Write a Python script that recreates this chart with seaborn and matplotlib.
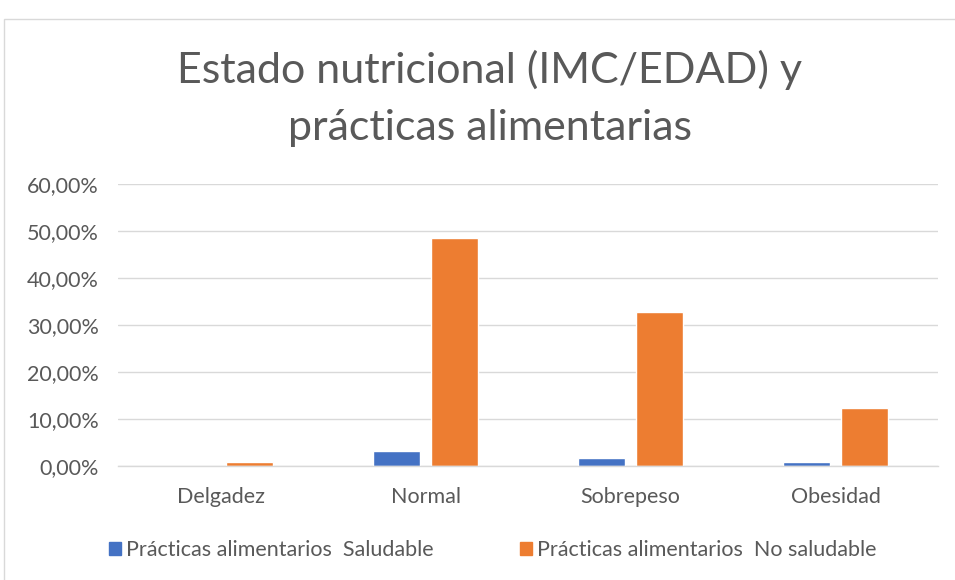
import matplotlib
matplotlib.use("Agg")
import matplotlib.pyplot as plt
import matplotlib.patches as mpatches
from matplotlib.ticker import FuncFormatter, MultipleLocator
import pandas as pd
import seaborn as sns

# Data (fractions of 1).
categories = ["Delgadez", "Normal", "Sobrepeso", "Obesidad"]
series_names = ["Prácticas alimentarios  Saludable",
                "Prácticas alimentarios  No saludable"]
saludable = [0.0, 0.032, 0.016, 0.008]
no_saludable = [0.008, 0.485, 0.328, 0.123]

colors = ["#4472C4", "#ED7D31"]
text_gray = "#595959"

df = pd.DataFrame({
    "estado": categories * 2,
    "serie": [series_names[0]] * 4 + [series_names[1]] * 4,
    "valor": saludable + no_saludable,
})

sns.set_style("white")
plt.rcParams["font.family"] = ["Lato", "DejaVu Sans"]

fig = plt.figure(figsize=(9.55, 5.8), dpi=100)
ax = fig.add_axes([0.1236, 0.1966, 0.8586, 0.4862])

sns.barplot(data=df, x="estado", y="valor", hue="serie", order=categories,
            hue_order=series_names, palette=colors, width=0.57, gap=0.2,
            saturation=1, legend=False, ax=ax)

ax.set_ylim(0, 0.6)
ax.set_xlim(-0.5, 3.5)
ax.yaxis.set_major_locator(MultipleLocator(0.1))
ax.yaxis.set_major_formatter(
    FuncFormatter(lambda v, _: f"{v * 100:.2f}%".replace(".", ",")))
ax.grid(axis="y", color="#D9D9D9", linewidth=1)
ax.set_axisbelow(True)
for side in ["top", "right", "left"]:
    ax.spines[side].set_visible(False)
ax.spines["bottom"].set_color("#D9D9D9")
ax.spines["bottom"].set_linewidth(1)
ax.tick_params(axis="both", length=0, labelsize=15.5, colors=text_gray)
ax.tick_params(axis="y", pad=14)
ax.tick_params(axis="x", pad=15)
ax.set_xlabel("")
ax.set_ylabel("")

fig.text(0.5126, 0.830, "Estado nutricional (IMC/EDAD) y\nprácticas alimentarias",
         ha="center", va="center", fontsize=31, color=text_gray,
         linespacing=1.6)

handles = [mpatches.Patch(color=c, label=n) for c, n in zip(colors, series_names)]
fig.legend(handles=handles, loc="center", bbox_to_anchor=(0.516, 0.052),
           ncol=2, frameon=False, fontsize=15.5, handlelength=0.55,
           handleheight=0.55, handletextpad=0.25, columnspacing=4.0,
           labelcolor=text_gray)

# Light chart-area border like the spreadsheet frame.
fig.patches.append(mpatches.Rectangle((0.004, -0.01), 1.2, 0.988 - 0.01,
                                      transform=fig.transFigure, fill=False,
                                      edgecolor="#D9D9D9", linewidth=1))

fig.savefig("out.png", dpi=100)
